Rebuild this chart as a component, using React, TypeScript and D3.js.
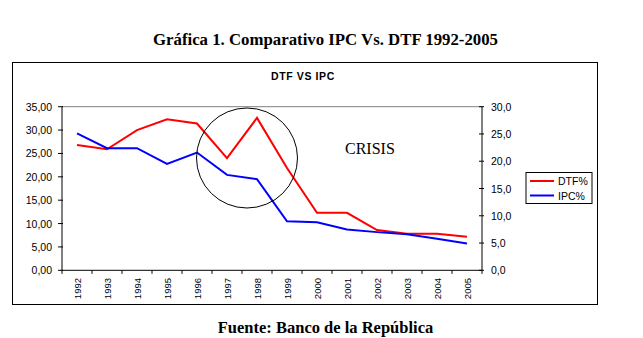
import React from "react";
import * as d3 from "d3";

const years = ["1992","1993","1994","1995","1996","1997","1998","1999","2000","2001","2002","2003","2004","2005"];
const dtf = [26.8, 25.9, 30.0, 32.3, 31.4, 24.0, 32.6, 21.9, 12.3, 12.3, 8.6, 7.8, 7.8, 7.2];
const ipc = [25.1, 22.4, 22.4, 19.5, 21.6, 17.5, 16.7, 9.0, 8.8, 7.5, 7.0, 6.6, 5.8, 4.9];
const leftTicks = [0, 5, 10, 15, 20, 25, 30, 35];
const rightTicks = [0, 5, 10, 15, 20, 25, 30];
const seriesNames = ["DTF%", "IPC%"];

export default function App() {
  const W = 643, H = 338;
  const left = 62, right = 482, top = 106.7, bottom = 270.3;
  const x = d3.scaleBand<string>().domain(years).range([left, right]);
  const yL = d3.scaleLinear().domain([0, 35]).range([bottom, top]);
  const yR = d3.scaleLinear().domain([0, 30]).range([bottom, top]);
  const cx = (d: string) => (x(d) as number) + x.bandwidth() / 2;
  const lineL = d3.line<number>().x((_, i) => cx(years[i])).y((v) => yL(v));
  const lineR = d3.line<number>().x((_, i) => cx(years[i])).y((v) => yR(v));
  const fmt2 = (v: number) => v.toFixed(2).replace(".", ",");
  const fmt1 = (v: number) => v.toFixed(1).replace(".", ",");
  const boundaries = years.map((d) => x(d) as number).concat([right]);
  const sans = "Arial, 'Liberation Sans', sans-serif";
  const serif = "'Times New Roman', 'Liberation Serif', serif";

  return (
    <svg width={W} height={H} style={{ position: "absolute", left: 0, top: 0, background: "#fff" }}>
      <rect x={0} y={0} width={W} height={H} fill="#fff" />
      <text x={325.5} y={45} textAnchor="middle" fontFamily={serif} fontWeight="bold" fontSize={16.8} fill="#000">
        Gráfica 1. Comparativo IPC Vs. DTF 1992-2005
      </text>
      <rect x={12.5} y={62.5} width={585} height={242} fill="none" stroke="#000" strokeWidth={1} />
      <text x={303} y={80} textAnchor="middle" fontFamily={sans} fontWeight="bold" fontSize={10.5} letterSpacing={0.6} fill="#000">
        DTF VS IPC
      </text>
      <line x1={left} x2={right} y1={yL(35)} y2={yL(35)} stroke="#808080" strokeWidth={1} />
      <line x1={left} x2={left} y1={top} y2={bottom} stroke="#000" />
      {leftTicks.map((t) => (
        <g key={"l" + t}>
          <line x1={left - 4} x2={left + 1} y1={yL(t)} y2={yL(t)} stroke="#000" />
          <text x={52} y={yL(t) + 4} textAnchor="end" fontFamily={sans} fontSize={10.5} fill="#000">{fmt2(t)}</text>
        </g>
      ))}
      <line x1={right} x2={right} y1={top} y2={bottom} stroke="#000" />
      {rightTicks.map((t) => (
        <g key={"r" + t}>
          <line x1={right - 3} x2={right + 2} y1={yR(t)} y2={yR(t)} stroke="#000" />
          <text x={491} y={yR(t) + 4} textAnchor="start" fontFamily={sans} fontSize={10.5} fill="#000">{fmt1(t)}</text>
        </g>
      ))}
      <line x1={left} x2={right} y1={bottom} y2={bottom} stroke="#000" />
      {boundaries.map((b, i) => (
        <line key={"xt" + i} x1={b} x2={b} y1={bottom} y2={bottom + 3.5} stroke="#000" />
      ))}
      {years.map((d) => (
        <text key={d} transform={`translate(${cx(d) + 3.5},278) rotate(-90)`} textAnchor="end" fontFamily={sans} fontSize={9.5} fill="#000">{d}</text>
      ))}
      <path d={lineL(dtf) as string} fill="none" stroke="#ff0000" strokeWidth={2} />
      <path d={lineR(ipc) as string} fill="none" stroke="#0000ff" strokeWidth={2} />
      <ellipse cx={247} cy={158} rx={50.5} ry={50} fill="none" stroke="#000" strokeWidth={1} />
      <text x={345} y={154} fontFamily={serif} fontSize={16} fill="#000">CRISIS</text>
      <rect x={526} y={172.5} width={66} height={31} fill="#fff" stroke="#000" strokeWidth={1} />
      {seriesNames.map((n, i) => (
        <g key={n}>
          <line x1={530} x2={554} y1={181 + i * 14.5} y2={181 + i * 14.5} stroke={i === 0 ? "#ff0000" : "#0000ff"} strokeWidth={2} />
          <text x={558} y={185 + i * 14.5} fontFamily={sans} fontSize={10.5} fill="#000">{n}</text>
        </g>
      ))}
      <text x={325.5} y={333} textAnchor="middle" fontFamily={serif} fontWeight="bold" fontSize={16.5} fill="#000">
        Fuente: Banco de la República
      </text>
    </svg>
  );
}
